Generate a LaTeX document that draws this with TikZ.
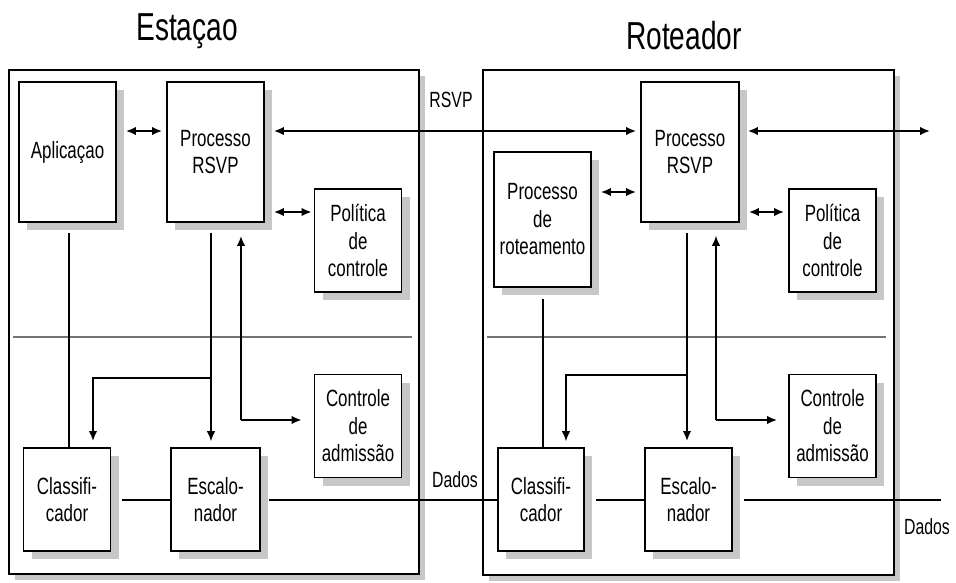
\documentclass[tikz,border=0pt]{standalone}
\usepackage{fontspec}
\newfontfamily\lbl[FakeStretch=0.72]{Liberation Sans}
\usetikzlibrary{arrows.meta,shadows}
\begin{document}
\begin{tikzpicture}[x=1pt,y=-1pt,
  >={Latex[length=10pt,width=8.5pt]},
  box/.style={draw,line width=1.8pt,fill=white,inner sep=0pt,align=center,
    font=\lbl\fontsize{23.5}{27.5}\selectfont,
    general shadow={fill=black!22,shadow xshift=8pt,shadow yshift=-8pt}},
  outer/.style={draw,line width=2pt,fill=white,inner sep=0pt,
    minimum width=410pt,minimum height=504pt,
    general shadow={fill=black!22,shadow xshift=6pt,shadow yshift=-6pt}},
  wide/.style={box,minimum width=97pt,minimum height=140pt},
  small/.style={box,minimum width=87pt,minimum height=103pt},
  conn/.style={line width=1.8pt},
  thinconn/.style={line width=1.2pt},
  sep/.style={line width=1.4pt,draw=black!55},
  lab/.style={font=\lbl\fontsize{22}{25}\selectfont,inner sep=0pt},
  ttl/.style={font=\lbl\fontsize{39}{40}\selectfont,inner sep=0pt}]
\useasboundingbox (0,0) rectangle (956,583);

% titles
\node[ttl] (tE) at (187,31) {Estaçao};
\node[ttl] (tR) at (684,36) {Roteador};

% outer boxes
\node[outer] (L) at (214,322) {};
\node[outer,minimum width=411pt,minimum height=505pt] (R) at (688.5,322.5) {};

% separators
\draw[sep] (13,337) -- (412,337);
\draw[sep] (487,337) -- (886,337);

% left boxes
\node[wide] (Apl) at (67.5,152) {Aplicaçao};
\node[wide] (LProc) at (215.5,152) {Processo\\RSVP};
\node[small] (LPol) at (358,240.5) {Política\\de\\controle};
\node[small] (LCtl) at (358,426) {Controle\\de\\admissão};
\node[small] (LCla) at (67,499.5) {Classifi-\\cador};
\node[small,minimum width=89pt] (LEsc) at (215.5,499.5) {Escalo-\\nador};

% right boxes
\node[wide,minimum height=135pt] (Rot) at (542.5,219.5) {Processo\\de\\roteamento};
\node[wide,minimum width=98pt] (RProc) at (690,152) {Processo\\RSVP};
\node[small] (RPol) at (832.5,240.5) {Política\\de\\controle};
\node[small] (RCtl) at (832.5,426) {Controle\\de\\admissão};
\node[small,minimum width=86pt] (RCla) at (541,499.5) {Classifi-\\cador};
\node[small] (REsc) at (688.5,499.5) {Escalo-\\nador};

% labels
\node[lab] (lRSVP) at (451,100) {RSVP};
\node[lab] (lD1) at (455,480) {Dados};
\node[lab] (lD2) at (927,527) {Dados};

% horizontal control arrows
\draw[conn,<->,shorten <=9pt,shorten >=4pt] (Apl.east |- 0,131) -- (LProc.west |- 0,131);
\draw[conn,<->,shorten <=9pt,shorten >=4pt] (LProc.east |- 0,131) -- (RProc.west |- 0,131);
\coordinate (rOut) at (930,131);
\draw[conn,<->,shorten <=8pt] (RProc.east |- rOut) -- (rOut);
\draw[conn,<->,shorten <=9pt,shorten >=2pt] (LProc.east |- 0,212) -- (LPol.west |- 0,212);
\draw[conn,<->,shorten <=9pt,shorten >=4pt] (RProc.east |- 0,212) -- (RPol.west |- 0,212);
\draw[conn,<->,shorten <=9pt,shorten >=4pt] (Rot.east |- 0,192) -- (RProc.west |- 0,192);

% left vertical connections
\draw[conn,shorten <=10pt] (Apl.south -| 69,0) -- (LCla.north -| 69,0);
\coordinate (lA) at (211,378);
\draw[thinconn,->,shorten <=10pt,shorten >=6pt] (LProc.south -| lA) -- (LEsc.north -| lA);
\draw[conn,->,shorten >=6pt] (lA) -| ([xshift=26pt]LCla.north);
\coordinate (lB) at (241,420);
\draw[conn,->,shorten >=13pt] (lB) -- (LProc.south -| lB);
\draw[conn,->,shorten >=12pt] (lB) -- (LCtl.west |- lB);

% right vertical connections
\draw[conn,shorten <=11pt] (Rot.south -| 543,0) -- (RCla.north -| 543,0);
\coordinate (rA) at (687,375);
\draw[conn,->,shorten <=10pt,shorten >=6pt] (RProc.south -| rA) -- (REsc.north -| rA);
\draw[thinconn,->,shorten >=6pt] (rA) -| ([xshift=25pt]RCla.north);
\coordinate (rB) at (716,420);
\draw[thinconn,->,shorten >=13pt] (rB) -- (RProc.south -| rB);
\draw[conn,->,shorten >=11pt] (rB) -- (RCtl.west |- rB);

% data path
\draw[conn,shorten <=11pt] (LCla.east |- 0,500) -- (LEsc.west |- 0,500);
\draw[conn,shorten <=8pt] (LEsc.east |- 0,500) -- (RCla.west |- 0,500);
\draw[conn,shorten <=11pt] (RCla.east |- 0,500) -- (REsc.west |- 0,500);
\coordinate (dOut) at (941,500);
\draw[conn,shorten <=11pt] (REsc.east |- dOut) -- (dOut);
\end{tikzpicture}
\end{document}
